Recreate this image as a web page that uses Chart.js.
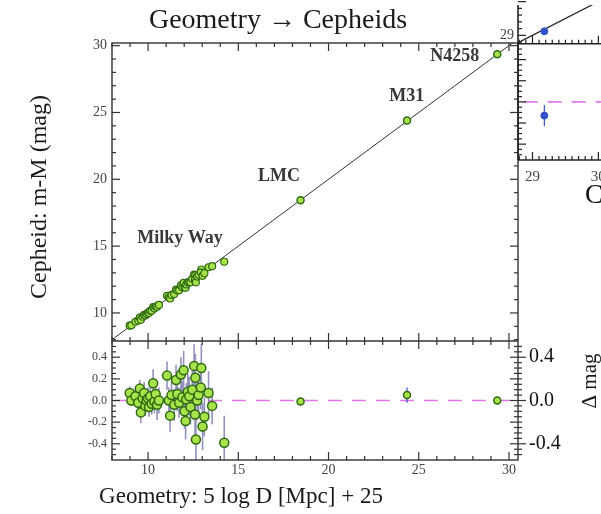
<!DOCTYPE html>
<html>
<head>
<meta charset="utf-8">
<style>
html, body { margin: 0; padding: 0; background: #fff; overflow: hidden; }
#wrap { position: relative; width: 601px; height: 514px; overflow: hidden; background: #fff; }
#main { position: absolute; left: 0; top: 0; }
#side { position: absolute; left: 430px; top: 0; }
</style>
</head>
<body>
<div id="wrap">
  <canvas id="main" width="601" height="514"></canvas>
  <canvas id="side" width="400" height="220"></canvas>
</div>
<script src="https://cdn.jsdelivr.net/npm/chart.js"></script>
<script>
// Milky Way parallax Cepheids: geometric distance modulus, Cepheid modulus, residual, error
const geoMod = [8.98, 9.07, 9.30, 9.45, 9.54, 9.60, 9.70, 9.78, 9.85, 9.92,
  10.00, 10.05, 10.12, 10.20, 10.28, 10.35, 10.42, 10.50, 10.60, 11.05,
  11.15, 11.22, 11.30, 11.45, 11.55, 11.62, 11.72, 11.82, 11.90, 11.97,
  12.02, 12.08, 12.12, 12.20, 12.28, 12.35, 12.45, 12.55, 12.62, 12.60,
  12.65, 12.72, 12.80, 12.95, 12.92, 13.02, 13.12, 13.35, 13.55, 14.22];
const cephMod = [9.05, 9.07, 9.34, 9.43, 9.65, 9.49, 9.72, 9.85, 9.80, 9.92,
  10.02, 9.99, 10.16, 10.17, 10.44, 10.34, 10.48, 10.46, 10.60, 11.28,
  11.15, 11.08, 11.35, 11.41, 11.74, 11.68, 11.70, 12.06, 11.93, 12.25,
  11.92, 11.89, 12.13, 12.28, 12.32, 12.29, 12.55, 12.87, 12.83, 12.47,
  12.29, 12.72, 12.85, 13.25, 13.04, 12.78, 12.97, 13.42, 13.50, 13.83];
const resid = [0.07, 0.00, 0.04, -0.02, 0.11, -0.11, 0.02, 0.07, -0.05, 0.00,
  0.02, -0.06, 0.04, -0.03, 0.16, -0.01, 0.06, -0.04, 0.00, 0.23,
  0.00, -0.14, 0.05, -0.04, 0.19, 0.06, -0.02, 0.24, 0.03, 0.28,
  -0.10, -0.19, 0.01, 0.08, 0.04, -0.06, 0.10, 0.32, 0.21, -0.13,
  -0.36, 0.00, 0.05, 0.30, 0.12, -0.24, -0.15, 0.07, -0.05, -0.39];
const residErr = [0.06, 0.05, 0.07, 0.08, 0.08, 0.10, 0.08, 0.10, 0.09, 0.08,
  0.10, 0.09, 0.12, 0.10, 0.13, 0.11, 0.12, 0.14, 0.12, 0.13,
  0.12, 0.15, 0.13, 0.15, 0.14, 0.16, 0.14, 0.16, 0.15, 0.18,
  0.16, 0.17, 0.15, 0.17, 0.18, 0.16, 0.18, 0.20, 0.22, 0.20,
  0.22, 0.18, 0.20, 0.22, 0.20, 0.22, 0.18, 0.20, 0.17, 0.25];

// anchor galaxies
const hostNames = ['LMC', 'M31', 'N4258'];
const hostGeo = [18.45, 24.35, 29.35];
const hostCeph = [18.44, 24.40, 29.35];
const hostResid = [-0.01, 0.05, 0.00];
const hostErr = [0.03, 0.07, 0.03];

const oneToOne = [7.9, 31];
const xTickLabels = [10, 15, 20, 25, 30];
const yTickLabels = [10, 15, 20, 25, 30];
const residTickLabels = [-0.4, -0.2, 0.0, 0.2, 0.4];
const deltaTickLabels = [-0.4, 0.0, 0.4];

// neighbouring panel (cut off at the right edge)
const sideGeo = [29.18];
const sideCeph = [29.12];
const sideResid = [-0.13];
const sideErr = [0.10];
const sideTickLabels = [29, 30, 31, 32, 33];

Chart.defaults.font.family = '"Liberation Serif", "Times New Roman", serif';
Chart.defaults.animation = false;

const GREEN = '#a8e34c', EDGE = '#2e6a10', BAR = 'rgba(100,100,160,0.7)', PINK = '#e07ae8', BLUE = '#3352c8';

const pts = (xs, ys) => xs.map((x, i) => ({x: x, y: ys[i]}));
function bars(xs, ys, es) {
  const out = [];
  xs.forEach((x, i) => { out.push({x: x, y: ys[i] - es[i]}, {x: x, y: ys[i] + es[i]}, {x: x, y: null}); });
  return out;
}
const near = (v, list) => list.find(t => Math.abs(t - v) < 1e-6);
const fmt1 = list => v => { const t = near(v, list); return t === undefined ? '' : (Math.abs(t) < 1e-9 ? '0.0' : t.toFixed(1)); };
const noPad = s => { s.paddingTop = 0; s.paddingBottom = 0; };

function line(ctx, x1, y1, x2, y2) { ctx.beginPath(); ctx.moveTo(x1, y1); ctx.lineTo(x2, y2); ctx.stroke(); }

const mainFrame = {
  id: 'mainFrame',
  afterDraw(chart) {
    const {ctx, chartArea: a, scales} = chart;
    const x = scales.x, yt = scales.y, yb = scales.y2;
    const mid = yt.bottom;
    ctx.save();
    ctx.strokeStyle = '#333';
    ctx.lineWidth = 1.4;
    ctx.strokeRect(a.left, a.top, a.right - a.left, a.bottom - a.top);
    line(ctx, a.left, mid, a.right, mid);
    ctx.lineWidth = 1.2;
    for (let v = 8; v <= 30; v++) {
      const px = x.getPixelForValue(v), len = v % 5 ? 4 : 8;
      line(ctx, px, a.top, px, a.top + len);
      line(ctx, px, mid, px, mid - len);
      line(ctx, px, mid, px, mid + len);
      line(ctx, px, a.bottom, px, a.bottom - len);
    }
    for (let v = 8; v <= 30; v++) {
      const py = yt.getPixelForValue(v), len = v % 5 ? 4 : 8;
      line(ctx, a.left, py, a.left + len, py);
      line(ctx, a.right, py, a.right - len, py);
    }
    for (let k = -10; k <= 10; k++) {
      const py = yb.getPixelForValue(k * 0.05), len = k % 4 ? 4 : 8;
      line(ctx, a.left, py, a.left + len, py);
      line(ctx, a.right, py, a.right - len, py);
      line(ctx, a.right, py, a.right + (k % 8 ? 4 : 8), py);
    }
    // annotations in data coordinates
    ctx.fillStyle = '#383838';
    ctx.font = 'bold 18px "Liberation Serif"';
    ctx.textAlign = 'center';
    ctx.textBaseline = 'middle';
    const notes = [['Milky Way', 11.77, 15.6], [hostNames[0], 17.25, 20.24], [hostNames[1], 24.34, 26.23], [hostNames[2], 27.0, 29.23]];
    notes.forEach(n => ctx.fillText(n[0], x.getPixelForValue(n[1]), yt.getPixelForValue(n[2])));
    // titles
    ctx.fillStyle = '#1a1a1a';
    ctx.font = '28px "Liberation Serif"';
    ctx.fillText('Geometry \u2192 Cepheids', 278, 21);
    ctx.font = '23px "Liberation Serif"';
    ctx.fillText('Geometry: 5 log D [Mpc] + 25', 241, 497);
    ctx.save();
    ctx.translate(40, 197);
    ctx.rotate(-Math.PI / 2);
    ctx.font = '24px "Liberation Serif"';
    ctx.fillText('Cepheid: m-M (mag)', 0, 0);
    ctx.restore();
    ctx.save();
    ctx.translate(590, 381);
    ctx.rotate(-Math.PI / 2);
    ctx.font = '21px "Liberation Serif"';
    ctx.fillText('\u0394 mag', 0, 0);
    ctx.restore();
    ctx.restore();
  }
};

new Chart(document.getElementById('main'), {
  type: 'scatter',
  data: {
    datasets: [
      {data: pts(geoMod, cephMod), yAxisID: 'y', pointRadius: 3.5, backgroundColor: GREEN, borderColor: EDGE, borderWidth: 1.2, order: 0},
      {data: pts(hostGeo, hostCeph), yAxisID: 'y', pointRadius: 3.5, backgroundColor: GREEN, borderColor: EDGE, borderWidth: 1.5, order: 0},
      {type: 'line', data: pts(oneToOne, oneToOne), yAxisID: 'y', borderColor: '#333', borderWidth: 1, pointRadius: 0, order: 2},
      {data: pts(geoMod, resid), yAxisID: 'y2', pointRadius: 4.5, backgroundColor: GREEN, borderColor: EDGE, borderWidth: 1.5, order: 0},
      {data: pts(hostGeo, hostResid), yAxisID: 'y2', pointRadius: 3.5, backgroundColor: GREEN, borderColor: EDGE, borderWidth: 1.5, order: 0},
      {type: 'line', data: bars(geoMod, resid, residErr), yAxisID: 'y2', borderColor: BAR, borderWidth: 1.6, pointRadius: 0, spanGaps: false, order: 1},
      {type: 'line', data: bars(hostGeo, hostResid, hostErr), yAxisID: 'y2', borderColor: BLUE, borderWidth: 1.2, pointRadius: 0, spanGaps: false, order: 1},
      {type: 'line', data: pts([8, 30.5], [0, 0]), yAxisID: 'y2', borderColor: PINK, borderWidth: 1.6, borderDash: [14, 10], pointRadius: 0, order: 3}
    ]
  },
  options: {
    responsive: false,
    devicePixelRatio: 1,
    animation: false,
    layout: {padding: {top: 43, left: 0, right: 0, bottom: 0}},
    plugins: {legend: {display: false}, tooltip: {enabled: false}},
    scales: {
      x: {
        type: 'linear', position: 'bottom', min: 8, max: 30.5,
        grid: {display: false, drawTicks: false}, border: {display: false},
        ticks: {stepSize: 5, includeBounds: false, autoSkip: false, maxRotation: 0, padding: 2, color: '#444', font: {size: 14},
          callback: v => near(v, xTickLabels) !== undefined ? String(v) : ''},
        afterFit: s => { s.height = 54; }
      },
      y: {
        type: 'linear', position: 'left', stack: 'left', stackWeight: 298, weight: 1, min: 7.9, max: 30.2,
        grid: {display: false, drawTicks: false}, border: {display: false},
        ticks: {stepSize: 5, includeBounds: false, autoSkip: false, padding: 5, color: '#444', font: {size: 14},
          callback: v => near(v, yTickLabels) !== undefined ? String(v) : ''},
        afterFit: s => { s.width = 112; }
      },
      y2: {
        type: 'linear', position: 'left', stack: 'left', stackWeight: 119, weight: 0, min: -0.55, max: 0.55,
        grid: {display: false, drawTicks: false}, border: {display: false},
        ticks: {stepSize: 0.2, includeBounds: false, autoSkip: false, padding: 5, color: '#444', font: {size: 12}, callback: fmt1(residTickLabels)},
        afterFit: s => { s.width = 112; }
      },
      yr: {
        type: 'linear', position: 'right', stack: 'right', stackWeight: 298, weight: 0, min: 7.9, max: 30.2,
        grid: {display: false, drawTicks: false}, border: {display: false},
        ticks: {display: false},
        afterFit: s => { s.width = 83; }
      },
      yr2: {
        type: 'linear', position: 'right', stack: 'right', stackWeight: 119, weight: 1, min: -0.55, max: 0.55,
        grid: {display: false, drawTicks: false}, border: {display: false},
        ticks: {stepSize: 0.4, includeBounds: false, autoSkip: false, padding: 11, color: '#111', font: {size: 20}, callback: fmt1(deltaTickLabels)},
        afterFit: s => { s.width = 83; }
      }
    }
  },
  plugins: [mainFrame]
});

const sideFrame = {
  id: 'sideFrame',
  afterDraw(chart) {
    const {ctx, chartArea: a, scales} = chart;
    const x = scales.x, ya = scales.ya, yb = scales.yb;
    const mid = ya.bottom;
    ctx.save();
    ctx.strokeStyle = '#222';
    ctx.lineWidth = 1.6;
    line(ctx, a.left, a.top, a.left, a.bottom);
    line(ctx, a.left, mid, a.right, mid);
    line(ctx, a.left, a.bottom, a.right, a.bottom);
    ctx.lineWidth = 1.2;
    for (let k = 288; k <= 340; k++) {
      const px = x.getPixelForValue(k / 10), len = k % 10 ? 4 : 8;
      line(ctx, px, mid, px, mid - len);
      line(ctx, px, a.bottom, px, a.bottom - len);
    }
    for (let k = 144; k <= 150; k++) {
      const py = ya.getPixelForValue(k / 5);
      line(ctx, a.left, py, a.left + (k % 5 ? 4 : 8), py);
    }
    for (let k = -10; k <= 10; k++) {
      const py = yb.getPixelForValue(k * 0.05);
      line(ctx, a.left, py, a.left + (k % 4 ? 4 : 8), py);
    }
    ctx.fillStyle = '#111';
    ctx.font = '27px "Liberation Serif"';
    ctx.textAlign = 'left';
    ctx.textBaseline = 'middle';
    ctx.fillText('Cepheids: m-M (mag)', 155, 196);
    ctx.restore();
  }
};

new Chart(document.getElementById('side'), {
  type: 'scatter',
  data: {
    datasets: [
      {data: pts(sideGeo, sideCeph), yAxisID: 'ya', pointRadius: 3.5, backgroundColor: BLUE, borderColor: BLUE, order: 0},
      {type: 'line', data: pts(oneToOne, oneToOne), yAxisID: 'ya', borderColor: '#222', borderWidth: 1.2, pointRadius: 0, order: 2},
      {data: pts(sideGeo, sideResid), yAxisID: 'yb', pointRadius: 3.5, backgroundColor: BLUE, borderColor: BLUE, order: 0},
      {type: 'line', data: bars(sideGeo, sideResid, sideErr), yAxisID: 'yb', borderColor: BLUE, borderWidth: 1.2, pointRadius: 0, spanGaps: false, order: 1},
      {type: 'line', data: pts([28.5, 34], [0, 0]), yAxisID: 'yb', borderColor: PINK, borderWidth: 1.6, borderDash: [14, 10], pointRadius: 0, order: 3}
    ]
  },
  options: {
    responsive: false,
    devicePixelRatio: 1,
    animation: false,
    layout: {padding: 0},
    plugins: {legend: {display: false}, tooltip: {enabled: false}},
    scales: {
      x: {
        type: 'linear', position: 'bottom', min: 28.78, max: 33.44,
        grid: {display: false, drawTicks: false}, border: {display: false},
        ticks: {stepSize: 1, includeBounds: false, autoSkip: false, maxRotation: 0, padding: 8, color: '#444', font: {size: 15},
          callback: v => near(v, sideTickLabels) !== undefined ? String(v) : ''},
        afterFit: s => { s.height = 60; }
      },
      ya: {
        type: 'linear', position: 'left', stack: 'left', stackWeight: 40, weight: 1, min: 28.75, max: 29.9,
        grid: {display: false, drawTicks: false}, border: {display: false},
        ticks: {stepSize: 1, includeBounds: false, autoSkip: false, padding: 4, color: '#444', font: {size: 14},
          callback: v => near(v, sideTickLabels) !== undefined ? String(v) : ''},
        afterFit: s => { s.width = 88; noPad(s); }
      },
      yb: {
        type: 'linear', position: 'left', stack: 'left', stackWeight: 120, weight: 0, min: -0.55, max: 0.55,
        grid: {display: false, drawTicks: false}, border: {display: false},
        ticks: {display: false},
        afterFit: s => { s.width = 88; noPad(s); }
      }
    }
  },
  plugins: [sideFrame]
});
</script>
</body>
</html>
